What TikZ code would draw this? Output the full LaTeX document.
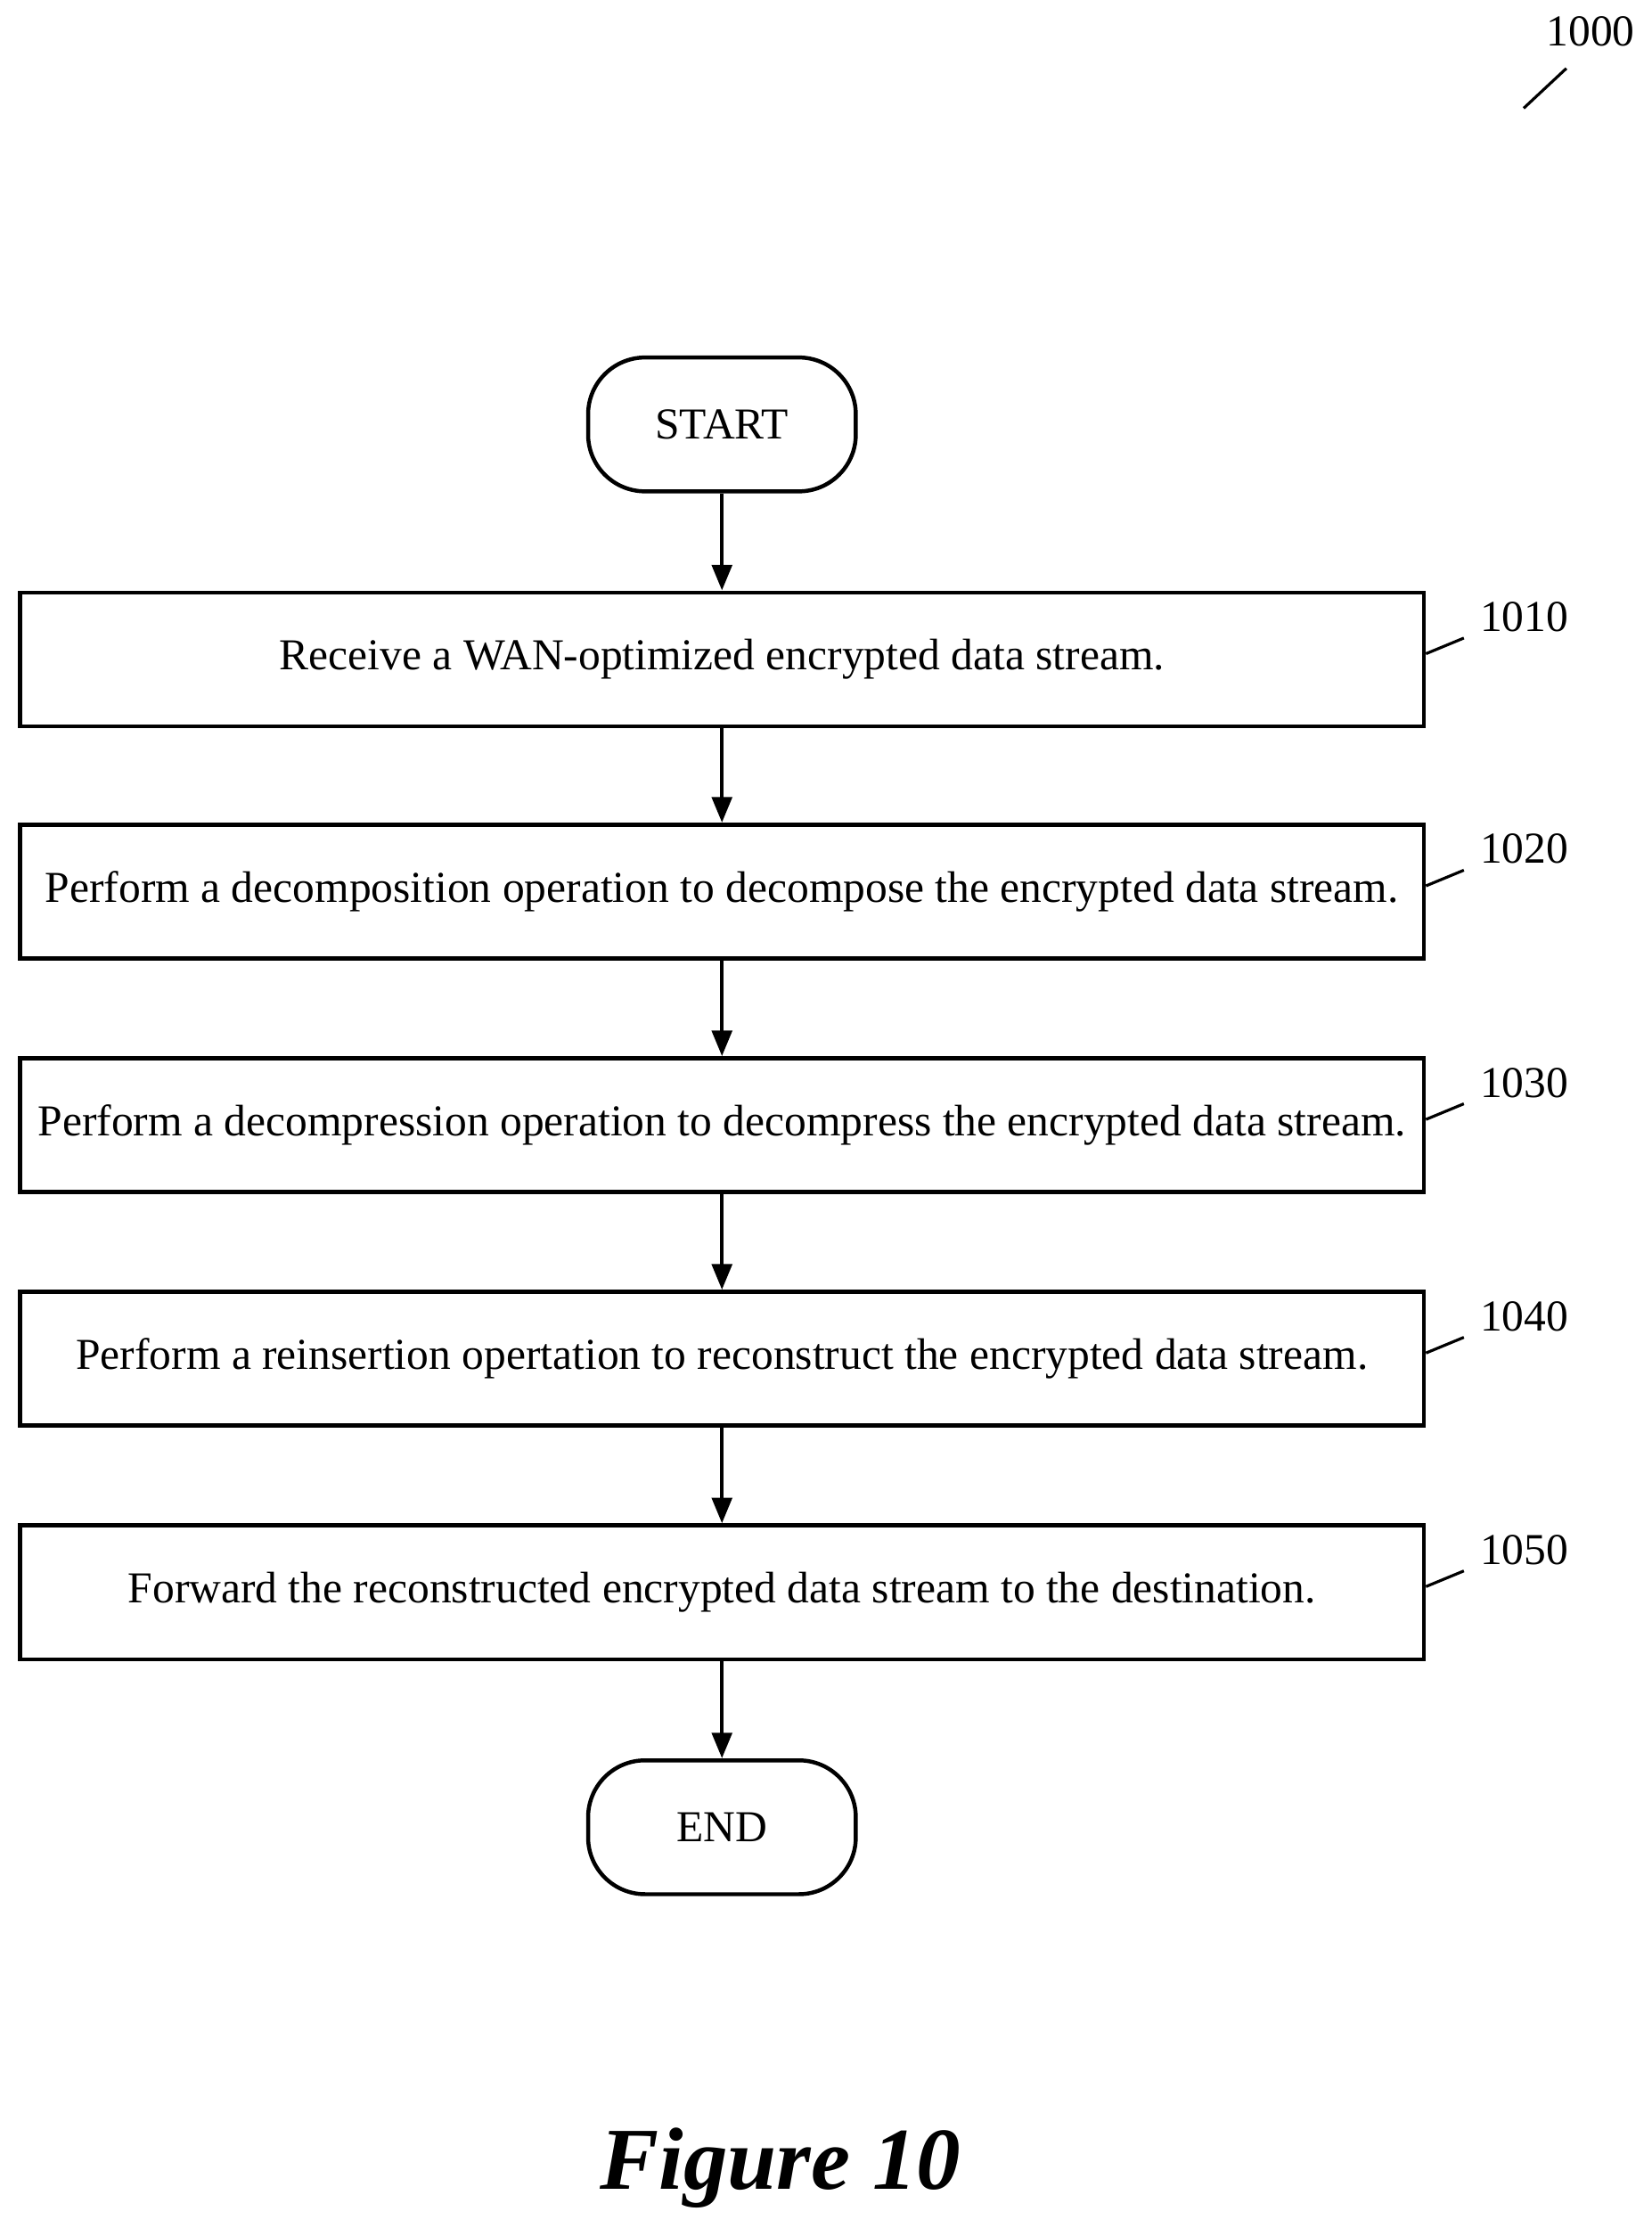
\documentclass[tikz,border=0pt]{standalone}
\usepackage{fontspec}
\setmainfont{Liberation Serif}
\usetikzlibrary{arrows.meta}
\tikzset{every picture/.style={line width=1.4pt}}
\tikzset{
  stepbox/.style={draw, rectangle, minimum width=493pt, minimum height=47pt, inner sep=0pt, font=\fontsize{15.5}{18}\selectfont},
  term/.style={draw, rounded corners=20pt, minimum width=94pt, minimum height=47pt, inner sep=0pt, font=\fontsize{15.5}{18}\selectfont},
  flow/.style={-{Triangle[length=9pt,width=7pt]}},
  ref/.style={font=\fontsize{15.5}{18}\selectfont, anchor=south west, inner sep=1pt}
}
\begin{document}
\begin{tikzpicture}[x=0.5pt,y=-0.5pt]
\useasboundingbox (0,0) rectangle (1160,1570);

% ref label of figure
\node[font=\fontsize{15.5}{18}\selectfont] (fig) at (1117,22) {1000};
\draw[line width=1pt] (1070,76) -- (1100,48);

% terminals and steps
\node[term] (start) at (507,298) {START};
\node[stepbox] (s1010) at (507,463) {Receive a WAN-optimized encrypted data stream.};
\node[stepbox] (s1020) at (507,626) {Perform a decomposition operation to decompose the encrypted data stream.};
\node[stepbox] (s1030) at (507,790) {Perform a decompression operation to decompress the encrypted data stream.};
\node[stepbox] (s1040) at (507,954) {Perform a reinsertion opertation to reconstruct the encrypted data stream.};
\node[stepbox] (s1050) at (507,1118) {Forward the reconstructed encrypted data stream to the destination.};
\node[term] (end) at (507,1283) {END};

% connectors
\draw[flow] (start) -- (s1010);
\draw[flow] (s1010) -- (s1020);
\draw[flow] (s1020) -- (s1030);
\draw[flow] (s1030) -- (s1040);
\draw[flow] (s1040) -- (s1050);
\draw[flow] (s1050) -- (end);

% step numbers
\foreach \n/\y in {1010/463,1020/626,1030/790,1040/954,1050/1118}{
  \coordinate (c\n) at (1028,\y-15);
  \draw[line width=1pt] (s\n.east) ++(0,-4) -- (c\n);
  \node[ref] (l\n) at (1036,\y-16) {\n};
}

\node[font=\fontsize{31}{36}\selectfont\bfseries\itshape] (title) at (548,1522) {Figure 10};
\end{tikzpicture}
\end{document}
